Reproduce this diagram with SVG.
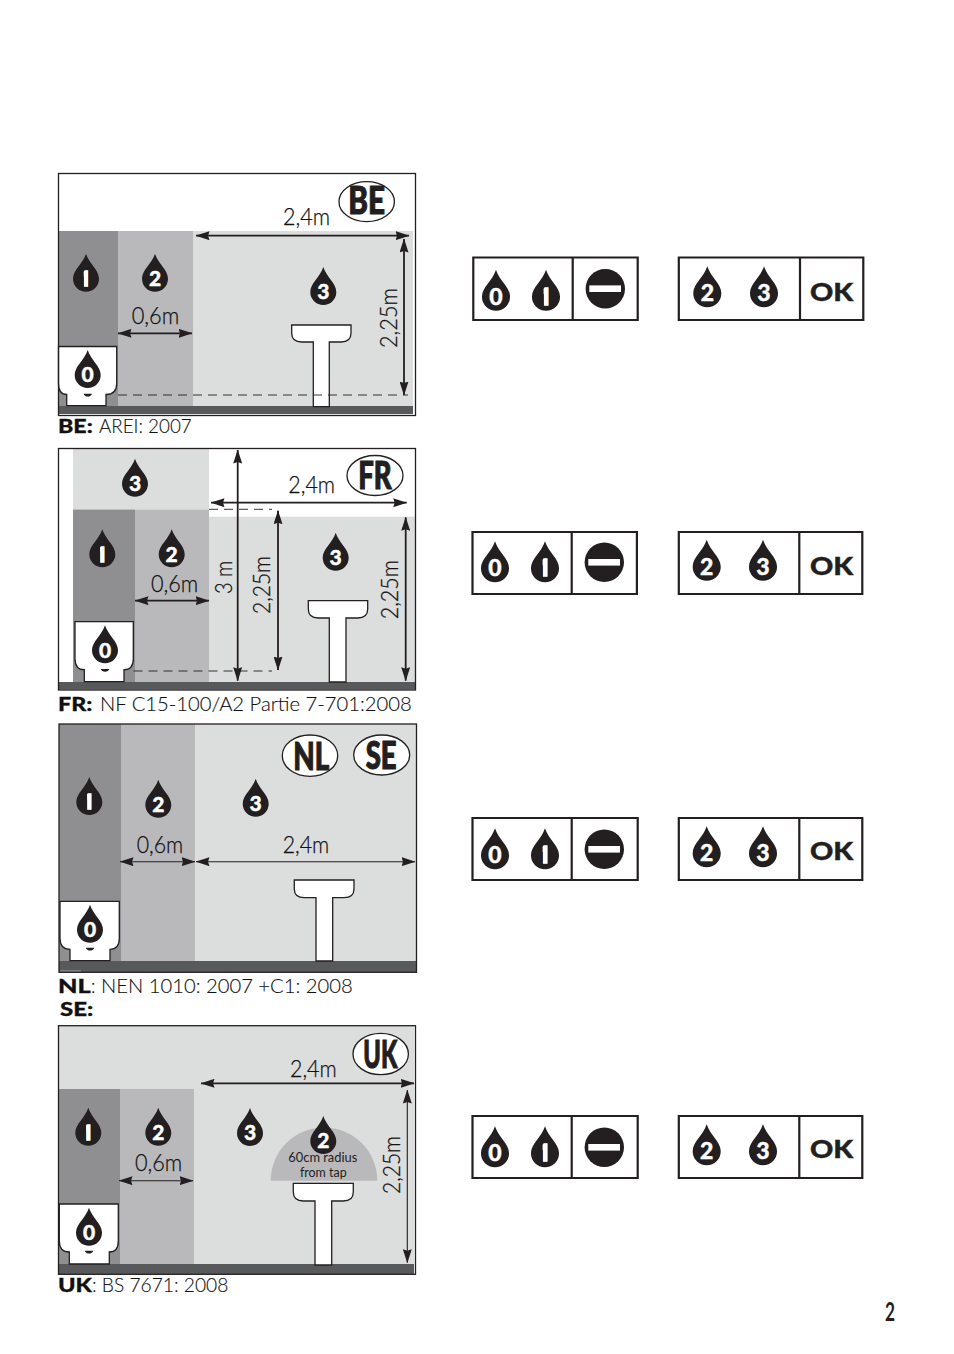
<svg xmlns="http://www.w3.org/2000/svg" width="954" height="1354" viewBox="0 0 954 1354">
<style>
text{font-family:"Lato","Liberation Sans",sans-serif;fill:#231f20}
.z1{fill:#8f8f91}.z2{fill:#b9b9bb}.z3{fill:#dcdddd}.fl{fill:#58595b}
.fr{fill:none;stroke:#231f20;stroke-width:1.3}
.wh{fill:#fff;stroke:#231f20;stroke-width:1.3}
.dim{stroke:#231f20;stroke-width:1.8;fill:none;marker-start:url(#a);marker-end:url(#a)}
.thin{stroke-width:1.1}
.dash{stroke:#231f20;stroke-width:.9;stroke-dasharray:9 6;fill:none}
.n{font-weight:900;font-size:21px;fill:#fff;stroke:#fff;stroke-width:.4;text-anchor:middle}
.s{font-size:23px}
.one{font-family:"Open Sans",sans-serif;font-weight:700;stroke-width:1.6;clip-path:url(#bar);transform:translate(-1px,0)}
.m{font-weight:300;font-size:23px;fill:#111;stroke:#111;stroke-width:.25}
.c{font-weight:300;font-size:19.5px;fill:#111;stroke:#111;stroke-width:.12}
.c tspan.k{font-weight:900;stroke-width:.3}
.b{font-weight:900;font-size:37px;stroke:#231f20;stroke-width:1.1}
.el{fill:#fff;stroke:#231f20;stroke-width:1.3}
.box{fill:none;stroke:#231f20;stroke-width:2.2}
.ok{font-weight:900;font-size:25px;stroke:#231f20;stroke-width:.4}
.sm{font-weight:400;font-size:12.5px;text-anchor:middle}
</style>
<defs>
<marker id="a" markerUnits="userSpaceOnUse" markerWidth="14" markerHeight="9" viewBox="0 0 14 9" refX="13.5" refY="4.5" orient="auto-start-reverse"><path d="M0,0 L14,4.5 L0,9 L1.5,4.5Z" fill="#231f20"/></marker>
<path id="d" d="M0,-25 C3,-15 13,-9 13,0 A13,13 0 1 1 -13,0 C-13,-9 -3,-15 0,-25Z" fill="#231f20"/>
<clipPath id="bar" clipPathUnits="objectBoundingBox"><rect x=".4" y="0" width=".38" height="1"/></clipPath>
<g id="stop"><circle cx="0" cy="0" r="19.7" fill="#231f20"/><rect x="-16" y="-3.3" width="31.7" height="6.6" fill="#fff"/></g>
</defs>
<rect width="954" height="1354" fill="#fff"/>

<g id="panel-be">
<rect class="z1" x="58" y="231" width="60" height="175"/>
<rect class="z2" x="118" y="231" width="75" height="175"/>
<rect class="z3" x="193" y="231" width="220" height="175"/>
<rect class="fl" x="58" y="406" width="355" height="8"/>
<path class="wh" d="M58.5,346.5H116.7V383.5Q116.7,394.5 106,394.5V405.7H66.7V394.5Q58.5,394.5 58.5,383.5Z"/>
<path d="M83.5,393.8H92Q91,396.6 87.7,396.6Q84.5,396.6 83.5,393.8Z" fill="#231f20"/>
<path class="wh" d="M291.7,325H351V333Q351,342 341,342H329.3V406.7H313.3V342H301.7Q291.7,342 291.7,333Z"/>
<path class="dash" d="M118,395H408"/>
<path class="dim" d="M196,235.7H409"/>
<path class="dim" d="M404,239V395"/>
<path class="dim" d="M118,333.3H192"/>
<rect class="fr" x="58.5" y="173.5" width="357" height="242"/>
<use href="#d" x="86" y="278.7"/><text class="n one" x="86" y="286">1</text>
<use href="#d" x="155" y="278.7"/><text class="n" x="155" y="286">2</text>
<use href="#d" x="323.3" y="292"/><text class="n" x="323.3" y="299.3">3</text>
<use href="#d" x="87.7" y="375"/><text class="n" x="87.7" y="382.3">0</text>
<text class="m" x="283" y="225" textLength="47" lengthAdjust="spacingAndGlyphs">2,4m</text>
<text class="m" x="131.7" y="324.3" textLength="47.6" lengthAdjust="spacingAndGlyphs">0,6m</text>
<text class="m" transform="translate(396.7 348) rotate(-90)" textLength="60" lengthAdjust="spacingAndGlyphs">2,25m</text>
<ellipse class="el" cx="366.7" cy="201.7" rx="27.7" ry="20"/>
<text class="b" x="348.3" y="214" textLength="36.7" lengthAdjust="spacingAndGlyphs">BE</text>
<text class="c" y="433.3"><tspan class="k" x="58" textLength="34.7" lengthAdjust="spacingAndGlyphs">BE:</tspan><tspan x="99" textLength="92.7" lengthAdjust="spacingAndGlyphs">AREI: 2007</tspan></text>
</g>

<g id="panel-fr">
<rect class="z3" x="73" y="449" width="136" height="60.5"/>
<rect class="z1" x="73" y="509.5" width="62" height="172.5"/>
<rect class="z2" x="135" y="509.5" width="74" height="172.5"/>
<rect class="z3" x="209" y="516.7" width="206" height="165.3"/>
<rect class="fl" x="58" y="682" width="357.5" height="7.5"/>
<path class="wh" d="M75,621.7H133.3V658.7Q133.3,669.7 124,669.7V681.7H84.3V669.7Q75,669.7 75,658.7Z"/>
<path d="M100.8,669H109.3Q108.3,671.8 105,671.8Q101.8,671.8 100.8,669Z" fill="#231f20"/>
<path class="wh" d="M308.3,600.7H367.7V609Q367.7,618 357.7,618H346V682H329.3V618H318.3Q308.3,618 308.3,609Z"/>
<path class="dash" d="M209,509.3H272M133.5,671H272"/>
<path class="dim" d="M237.7,450V680.7"/>
<path class="dim" d="M211,502.7H406.7"/>
<path class="dim" d="M278,510.7V670"/>
<path class="dim" d="M405.7,517.3V680.7"/>
<path class="dim" d="M135,600.7H209"/>
<rect class="fr" x="58.5" y="448.5" width="357" height="241.5"/>
<use href="#d" x="135" y="483.7"/><text class="n" x="135" y="491">3</text>
<use href="#d" x="102.3" y="554.3"/><text class="n one" x="102.3" y="561.6">1</text>
<use href="#d" x="171.7" y="554.3"/><text class="n" x="171.7" y="561.6">2</text>
<use href="#d" x="335.7" y="557.7"/><text class="n" x="335.7" y="565">3</text>
<use href="#d" x="105" y="650.3"/><text class="n" x="105" y="657.6">0</text>
<text class="m" x="288.3" y="493.3" textLength="46.7" lengthAdjust="spacingAndGlyphs">2,4m</text>
<text class="m" x="151" y="592.3" textLength="47.3" lengthAdjust="spacingAndGlyphs">0,6m</text>
<text class="m" transform="translate(231.7 594) rotate(-90)" textLength="33.3" lengthAdjust="spacingAndGlyphs">3 m</text>
<text class="m" transform="translate(270 614) rotate(-90)" textLength="58" lengthAdjust="spacingAndGlyphs">2,25m</text>
<text class="m" transform="translate(398.3 619.3) rotate(-90)" textLength="59.3" lengthAdjust="spacingAndGlyphs">2,25m</text>
<ellipse class="el" cx="375" cy="475.5" rx="28" ry="20"/>
<text class="b" x="358.3" y="488.5" textLength="33.4" lengthAdjust="spacingAndGlyphs">FR</text>
<text class="c" y="710.7"><tspan class="k" x="58" textLength="34.3" lengthAdjust="spacingAndGlyphs">FR:</tspan><tspan x="100" textLength="311.7" lengthAdjust="spacingAndGlyphs">NF C15-100/A2 Partie 7-701:2008</tspan></text>
</g>

<g id="panel-nl-se">
<rect class="z1" x="59" y="724" width="62" height="237"/>
<rect class="z2" x="121" y="724" width="74.3" height="237"/>
<rect class="z3" x="195.3" y="724" width="221" height="237"/>
<rect class="fl" x="59" y="961" width="357.5" height="11"/>
<path d="M60,971H81" stroke="#b9b9bb" stroke-width=".8"/>
<path class="wh" d="M60,901.3H119.3V938.3Q119.3,949.3 110,949.3V960.7H70V949.3Q60,949.3 60,938.3Z"/>
<path d="M85.8,947.8H94.3Q93.3,950.6 90,950.6Q86.8,950.6 85.8,947.8Z" fill="#231f20"/>
<path class="wh" d="M294.3,880H354V889Q354,897.7 344,897.7H332.7V961H316V897.7H304.3Q294.3,897.7 294.3,889Z"/>
<path class="dim thin" d="M120,861.7H195"/>
<path class="dim thin" d="M196,861.7H415"/>
<rect class="fr" x="59" y="724" width="357.5" height="248.3"/>
<use href="#d" x="89.3" y="802"/><text class="n one" x="89.3" y="809.3">1</text>
<use href="#d" x="158.3" y="804.7"/><text class="n" x="158.3" y="812">2</text>
<use href="#d" x="255.7" y="803.7"/><text class="n" x="255.7" y="811">3</text>
<use href="#d" x="90" y="929.7"/><text class="n" x="90" y="937">0</text>
<text class="m" x="136.7" y="852.7" textLength="46.6" lengthAdjust="spacingAndGlyphs">0,6m</text>
<text class="m" x="282.7" y="852.7" textLength="46.6" lengthAdjust="spacingAndGlyphs">2,4m</text>
<ellipse class="el" cx="310" cy="755.7" rx="27.7" ry="20.7"/>
<text class="b" x="293.3" y="769.5" textLength="36" lengthAdjust="spacingAndGlyphs">NL</text>
<ellipse class="el" cx="381.7" cy="755" rx="28" ry="20"/>
<text class="b" x="365.7" y="769" textLength="31" lengthAdjust="spacingAndGlyphs">SE</text>
<text class="c" y="993.3"><tspan class="k" x="58" textLength="32.7" lengthAdjust="spacingAndGlyphs">NL</tspan><tspan x="90.7" textLength="262" lengthAdjust="spacingAndGlyphs">: NEN 1010: 2007 +C1: 2008</tspan></text>
<text class="c" y="1015.7"><tspan class="k" x="60" textLength="33.3" lengthAdjust="spacingAndGlyphs">SE:</tspan></text>
</g>

<g id="panel-uk">
<rect class="z3" x="58" y="1026" width="356" height="238"/>
<rect class="z1" x="58" y="1089" width="62" height="175"/>
<rect class="z2" x="120" y="1089" width="74" height="175"/>
<rect class="fl" x="58" y="1264" width="356" height="10"/>
<path d="M270.7,1180.7A53.3,53.3 0 0 1 377.3,1180.7Z" fill="#b9b9bb"/>
<path class="wh" d="M59.3,1204H118.3V1241Q118.3,1252 109.3,1252V1264H69.3V1252Q59.3,1252 59.3,1241Z"/>
<path d="M84.8,1250.8H93.3Q92.3,1253.6 89,1253.6Q85.8,1253.6 84.8,1250.8Z" fill="#231f20"/>
<path class="wh" d="M293.3,1183.3H353.3V1192Q353.3,1201 343.3,1201H331.7V1265H315V1201H303.3Q293.3,1201 293.3,1192Z"/>
<path class="dim" d="M201,1083.3H414"/>
<path class="dim thin" d="M407.3,1090V1262.7"/>
<path class="dim thin" d="M119,1180.7H193"/>
<rect class="fr" x="58.5" y="1025.7" width="357" height="248.6"/>
<use href="#d" x="88.3" y="1132.7"/><text class="n one" x="88.3" y="1140">1</text>
<use href="#d" x="158.3" y="1132.7"/><text class="n" x="158.3" y="1140">2</text>
<use href="#d" x="250" y="1133"/><text class="n" x="250" y="1140.3">3</text>
<use href="#d" x="323.3" y="1141"/><text class="n" x="323.3" y="1148.3">2</text>
<use href="#d" x="89" y="1232.7"/><text class="n" x="89" y="1240">0</text>
<text class="sm" x="322.8" y="1161.7" textLength="69" lengthAdjust="spacingAndGlyphs">60cm radius</text>
<text class="sm" x="323.3" y="1176.7" textLength="46.7" lengthAdjust="spacingAndGlyphs">from tap</text>
<text class="m" x="290" y="1077.3" textLength="46.7" lengthAdjust="spacingAndGlyphs">2,4m</text>
<text class="m" x="135" y="1170.7" textLength="47.3" lengthAdjust="spacingAndGlyphs">0,6m</text>
<text class="m" transform="translate(400 1194) rotate(-90)" textLength="58" lengthAdjust="spacingAndGlyphs">2,25m</text>
<ellipse class="el" cx="380.7" cy="1054" rx="27.7" ry="20.7"/>
<text class="b" x="363.3" y="1068.3" textLength="34" lengthAdjust="spacingAndGlyphs">UK</text>
<text class="c" y="1291.7"><tspan class="k" x="58" textLength="34" lengthAdjust="spacingAndGlyphs">UK</tspan><tspan x="92" textLength="136.3" lengthAdjust="spacingAndGlyphs">: BS 7671: 2008</tspan></text>
</g>

<g id="status-be">
<path class="box" d="M473.3,257.5H637.7V320H473.3ZM572.7,257.5V320M678.8,257.5H863.3V320H678.8ZM800,257.5V320"/>
<use href="#stop" x="605.3" y="288.7"/>
<use href="#d" transform="translate(496 296.7) scale(1.08)"/><text class="n s" x="496" y="304.7">0</text>
<use href="#d" transform="translate(546 296.7) scale(1.08)"/><text class="n s one" x="546" y="304.7">1</text>
<use href="#d" transform="translate(707.3 293.3) scale(1.08)"/><text class="n s" x="707.3" y="301.3">2</text>
<use href="#d" transform="translate(764 293.3) scale(1.08)"/><text class="n s" x="764" y="301.3">3</text>
<text class="ok" x="810" y="300.7" textLength="43.3" lengthAdjust="spacingAndGlyphs">OK</text>
</g>
<g id="status-fr">
<path class="box" d="M472.5,532H636.9V594H472.5ZM571.7,532V594M678.8,532H862.3V594H678.8ZM799.3,532V594"/>
<use href="#stop" x="604.3" y="562.3"/>
<use href="#d" transform="translate(495 568.3) scale(1.08)"/><text class="n s" x="495" y="576.3">0</text>
<use href="#d" transform="translate(545 568.3) scale(1.08)"/><text class="n s one" x="545" y="576.3">1</text>
<use href="#d" transform="translate(706.7 566.7) scale(1.08)"/><text class="n s" x="706.7" y="574.7">2</text>
<use href="#d" transform="translate(763 566.7) scale(1.08)"/><text class="n s" x="763" y="574.7">3</text>
<text class="ok" x="810" y="575" textLength="43.3" lengthAdjust="spacingAndGlyphs">OK</text>
</g>
<g id="status-nl">
<path class="box" d="M472.5,818H637.7V880H472.5ZM571.7,818V880M678.8,818H862.3V880H678.8ZM799.3,818V880"/>
<use href="#stop" x="604.3" y="849.3"/>
<use href="#d" transform="translate(495 855.3) scale(1.08)"/><text class="n s" x="495" y="863.3">0</text>
<use href="#d" transform="translate(545 855.3) scale(1.08)"/><text class="n s one" x="545" y="863.3">1</text>
<use href="#d" transform="translate(706.7 853.3) scale(1.08)"/><text class="n s" x="706.7" y="861.3">2</text>
<use href="#d" transform="translate(763 853.3) scale(1.08)"/><text class="n s" x="763" y="861.3">3</text>
<text class="ok" x="810" y="860" textLength="43.3" lengthAdjust="spacingAndGlyphs">OK</text>
</g>
<g id="status-uk">
<path class="box" d="M472.5,1116H637.7V1178H472.5ZM571.7,1116V1178M678.8,1116H862.3V1178H678.8ZM799.3,1116V1178"/>
<use href="#stop" x="604.3" y="1147.3"/>
<use href="#d" transform="translate(495 1153.3) scale(1.08)"/><text class="n s" x="495" y="1161.3">0</text>
<use href="#d" transform="translate(545 1153.3) scale(1.08)"/><text class="n s one" x="545" y="1161.3">1</text>
<use href="#d" transform="translate(706.7 1151.3) scale(1.08)"/><text class="n s" x="706.7" y="1159.3">2</text>
<use href="#d" transform="translate(763 1151.3) scale(1.08)"/><text class="n s" x="763" y="1159.3">3</text>
<text class="ok" x="810" y="1158" textLength="43.3" lengthAdjust="spacingAndGlyphs">OK</text>
</g>
<text id="page" x="885" y="1321" font-size="27" font-weight="700" textLength="10" lengthAdjust="spacingAndGlyphs">2</text>
</svg>
